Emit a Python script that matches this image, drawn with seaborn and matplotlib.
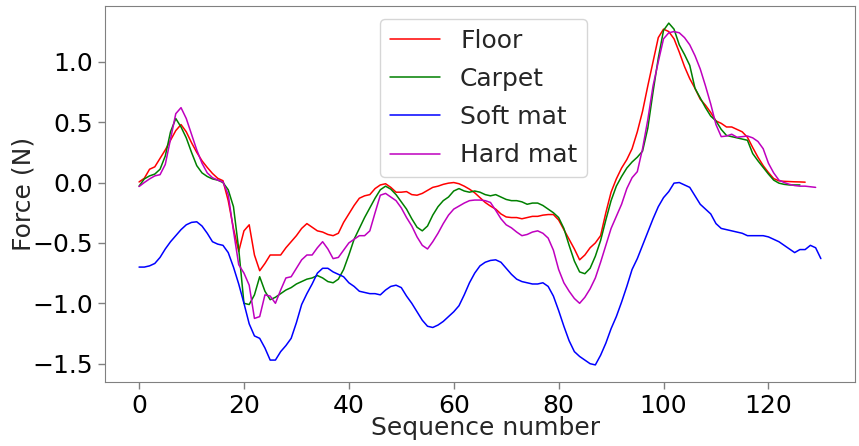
import numpy as np
import pandas as pd
import matplotlib
matplotlib.use("Agg")
import matplotlib.pyplot as plt
import seaborn as sns

# Force readings per sample for each surface
floor = [0.005, 0.035, 0.11, 0.13, 0.2, 0.27, 0.35, 0.43, 0.48, 0.42,
         0.33, 0.25, 0.18, 0.125, 0.075, 0.035, 0.015, -0.15, -0.38, -0.57,
         -0.40, -0.35, -0.6, -0.73, -0.67, -0.6, -0.6, -0.6, -0.54, -0.49,
         -0.44, -0.38, -0.34, -0.37, -0.40, -0.41, -0.43, -0.44, -0.42, -0.33,
         -0.26, -0.19, -0.13, -0.11, -0.1, -0.05, -0.02, -0.01, -0.04, -0.08,
         -0.08, -0.075, -0.1, -0.105, -0.09, -0.065, -0.04, -0.03, -0.015, -0.005,
         0.0, -0.01, -0.03, -0.055, -0.085, -0.125, -0.165, -0.195, -0.22, -0.26,
         -0.285, -0.29, -0.29, -0.3, -0.29, -0.28, -0.28, -0.27, -0.265, -0.265,
         -0.31, -0.39, -0.47, -0.55, -0.64, -0.60, -0.54, -0.5, -0.44, -0.25,
         -0.08, 0.03, 0.12, 0.19, 0.28, 0.42, 0.59, 0.8, 1.0, 1.2,
         1.27, 1.25, 1.19, 1.08, 0.96, 0.86, 0.78, 0.69, 0.64, 0.58,
         0.51, 0.49, 0.46, 0.46, 0.44, 0.42, 0.375, 0.29, 0.21, 0.14,
         0.083, 0.033, 0.014, 0.01, 0.008, 0.006, 0.005, 0.003]

carpet = [-0.03, 0.03, 0.055, 0.07, 0.11, 0.22, 0.42, 0.53, 0.46, 0.37,
          0.25, 0.14, 0.08, 0.05, 0.03, 0.02, 0.0, -0.06, -0.2, -0.55,
          -1.0, -1.01, -0.93, -0.78, -0.9, -0.97, -0.95, -0.92, -0.89, -0.87,
          -0.84, -0.82, -0.80, -0.79, -0.77, -0.79, -0.82, -0.83, -0.80, -0.72,
          -0.60, -0.47, -0.38, -0.29, -0.21, -0.13, -0.06, -0.03, -0.055, -0.1,
          -0.16, -0.22, -0.30, -0.37, -0.40, -0.36, -0.27, -0.2, -0.15, -0.12,
          -0.07, -0.05, -0.07, -0.08, -0.07, -0.08, -0.1, -0.11, -0.1, -0.12,
          -0.14, -0.15, -0.15, -0.16, -0.18, -0.17, -0.17, -0.19, -0.22, -0.25,
          -0.29, -0.38, -0.52, -0.65, -0.74, -0.755, -0.71, -0.61, -0.48, -0.31,
          -0.15, -0.03, 0.05, 0.12, 0.17, 0.21, 0.26, 0.45, 0.75, 1.03,
          1.26, 1.32, 1.27, 1.14, 1.06, 0.97, 0.78, 0.7, 0.62, 0.55,
          0.51, 0.44, 0.39, 0.38, 0.37, 0.36, 0.35, 0.24, 0.18, 0.125,
          0.07, 0.02, -0.005, -0.015, -0.02, -0.02, -0.02]

soft_mat = [-0.70, -0.70, -0.69, -0.67, -0.62, -0.55, -0.49, -0.44, -0.39, -0.35,
            -0.33, -0.325, -0.36, -0.42, -0.49, -0.51, -0.52, -0.58, -0.7, -0.84,
            -1.0, -1.17, -1.27, -1.29, -1.37, -1.47, -1.47, -1.40, -1.35, -1.29,
            -1.16, -1.01, -0.92, -0.84, -0.75, -0.71, -0.71, -0.74, -0.76, -0.78,
            -0.83, -0.86, -0.9, -0.91, -0.92, -0.92, -0.93, -0.89, -0.86, -0.85,
            -0.87, -0.94, -1.0, -1.07, -1.14, -1.19, -1.2, -1.18, -1.15, -1.11,
            -1.07, -1.02, -0.93, -0.83, -0.75, -0.69, -0.66, -0.645, -0.64, -0.66,
            -0.71, -0.76, -0.8, -0.82, -0.83, -0.84, -0.84, -0.83, -0.86, -0.94,
            -1.06, -1.19, -1.31, -1.4, -1.44, -1.47, -1.5, -1.51, -1.43, -1.33,
            -1.21, -1.11, -0.99, -0.86, -0.72, -0.63, -0.52, -0.41, -0.3, -0.2,
            -0.125, -0.075, -0.005, 0.0, -0.02, -0.04, -0.11, -0.18, -0.22, -0.26,
            -0.34, -0.38, -0.39, -0.4, -0.41, -0.42, -0.44, -0.44, -0.44, -0.44,
            -0.45, -0.47, -0.49, -0.52, -0.55, -0.58, -0.555, -0.555, -0.52, -0.54,
            -0.63]

hard_mat = [-0.033, 0.0, 0.03, 0.055, 0.065, 0.15, 0.36, 0.57, 0.62, 0.53,
            0.40, 0.27, 0.16, 0.08, 0.04, 0.02, 0.005, -0.1, -0.4, -0.68,
            -0.75, -0.85, -1.125, -1.11, -0.93, -0.94, -1.0, -0.89, -0.79, -0.78,
            -0.71, -0.64, -0.6, -0.6, -0.54, -0.49, -0.55, -0.63, -0.62, -0.56,
            -0.5, -0.47, -0.44, -0.44, -0.40, -0.25, -0.105, -0.09, -0.12, -0.15,
            -0.21, -0.29, -0.36, -0.45, -0.52, -0.55, -0.49, -0.42, -0.34, -0.27,
            -0.22, -0.195, -0.17, -0.15, -0.145, -0.145, -0.15, -0.165, -0.23, -0.3,
            -0.35, -0.375, -0.41, -0.44, -0.43, -0.41, -0.40, -0.42, -0.46, -0.56,
            -0.72, -0.83, -0.9, -0.96, -1.0, -0.95, -0.88, -0.79, -0.66, -0.52,
            -0.38, -0.28, -0.18, -0.05, 0.04, 0.09, 0.28, 0.52, 0.8, 1.0,
            1.19, 1.24, 1.25, 1.24, 1.2, 1.14, 1.05, 0.94, 0.8, 0.65,
            0.48, 0.38, 0.385, 0.4, 0.375, 0.38, 0.385, 0.37, 0.34, 0.28,
            0.16, 0.08, 0.02, 0.0, -0.015, -0.025, -0.03, -0.03, -0.035, -0.04]

labels = ["Floor", "Carpet", "Soft mat", "Hard mat"]
colors = ["r", "g", "b", "m"]
series = [floor, carpet, soft_mat, hard_mat]

frames = []
for name, vals in zip(labels, series):
    frames.append(pd.DataFrame({"seq": np.arange(len(vals)), "force": vals, "surface": name}))
df = pd.concat(frames, ignore_index=True)

sns.set_style("white")
plt.rcParams["font.family"] = ["DejaVu Sans"]
plt.rcParams["axes.edgecolor"] = "#808080"
plt.rcParams["xtick.color"] = "#808080"
plt.rcParams["ytick.color"] = "#808080"
plt.rcParams["xtick.labelcolor"] = "black"
plt.rcParams["ytick.labelcolor"] = "black"

fig, ax = plt.subplots(figsize=(8.59, 4.46), dpi=100)
fig.subplots_adjust(left=0.1222, right=0.9953, top=0.9865, bottom=0.1435)

for name, col in zip(labels, colors):
    sub = df[df["surface"] == name]
    sns.lineplot(data=sub, x="seq", y="force", color=col, label=name,
                 linewidth=1.1, ax=ax)

ax.tick_params(axis="both", which="major", labelsize=18, length=5, width=1,
               bottom=True, left=True)
ax.set_xticks([0, 20, 40, 60, 80, 100, 120])
ax.set_yticks([-1.5, -1.0, -0.5, 0.0, 0.5, 1.0])
ax.set_xlabel("Sequence number", fontsize=18, labelpad=-1)
ax.xaxis.label.set_x(0.508)
ax.set_ylabel("Force (N)", fontsize=18, labelpad=-2)
ax.legend(loc="upper center", fontsize=18, frameon=True, labelspacing=0.57,
          bbox_to_anchor=(0.505, 1.0))

fig.savefig("out.png", dpi=100)
